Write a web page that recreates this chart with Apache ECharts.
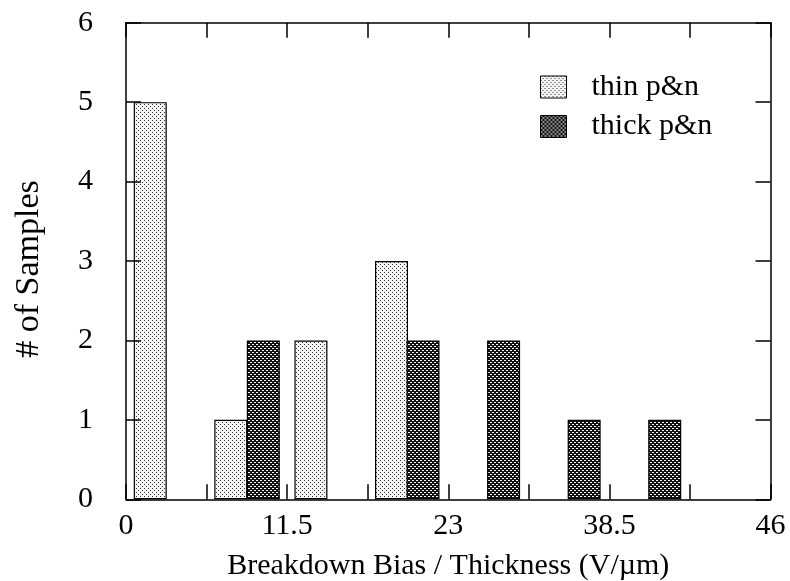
<!DOCTYPE html>
<html>
<head>
<meta charset="utf-8">
<script src="https://cdn.jsdelivr.net/npm/echarts@6/dist/echarts.min.js"></script>
<style>html,body{margin:0;padding:0;background:#fff;}#c{width:790px;height:581px;}</style>
</head>
<body>
<div id="c"></div>
<script>
// Data
var seriesNames = ['thin p&n', 'thick p&n'];
var thinX = [1.73, 7.48, 13.2, 18.95];
var thinY = [5, 1, 2, 3];
var thickX = [9.8, 21.2, 26.95, 32.7, 38.45];
var thickY = [2, 2, 2, 1, 1];
var xTickLabels = ['0', '', '11.5', '', '23', '', '38.5', '', '46'];
var yTickLabels = ['0', '1', '2', '3', '4', '5', '6'];
var xTitle = 'Breakdown Bias / Thickness (V/\u00b5m)';
var yTitle = '# of Samples';

function makePattern(bg, fg, pts) {
  var c = document.createElement('canvas');
  c.width = 4; c.height = 4;
  var g = c.getContext('2d');
  g.fillStyle = bg; g.fillRect(0, 0, 4, 4);
  g.fillStyle = fg;
  pts.forEach(function (p) { g.fillRect(p[0], p[1], 1, 1); });
  return c;
}
var thinPat = makePattern('#f4f4f4', '#333333', [[0, 0], [2, 2]]);
var thickPat = makePattern('#111111', '#ffffff', [[0, 0], [2, 2], [1, 0], [3, 2]]);

var font = 'Liberation Serif';
var chart = echarts.init(document.getElementById('c'));
var axisLineStyle = { color: '#000', width: 1.5 };
function tick() { return { show: true, inside: true, length: 15, lineStyle: { color: '#000', width: 1.5 } }; }
var option = {
  animation: false,
  textStyle: { fontFamily: font, color: '#000' },
  grid: { left: 126, right: 19.5, top: 22.7, bottom: 81.7, containLabel: false, outerBoundsMode: 'none' },
  legend: {
    data: seriesNames,
    orient: 'vertical',
    left: 540, top: 72, padding: 0,
    itemWidth: 26, itemHeight: 22, itemGap: 9.5,
    icon: 'rect',
    itemStyle: { borderColor: '#000', borderWidth: 1 },
    textStyle: { fontFamily: font, fontSize: 30, color: '#000', lineHeight: 30, padding: [0, 0, 0, 20] }
  },
  xAxis: [{
    type: 'value', min: 0, max: 46, interval: 5.75, position: 'bottom', z: 5,
    axisLine: { onZero: false, lineStyle: axisLineStyle },
    axisTick: tick(),
    splitLine: { show: false },
    axisLabel: {
      margin: 12, fontSize: 30, fontFamily: font, color: '#000',
      formatter: function (v) { return xTickLabels[Math.round(v / 5.75)] || ''; }
    },
    name: xTitle, nameLocation: 'middle', nameGap: 52,
    nameTextStyle: { fontFamily: font, fontSize: 30, color: '#000' }
  }, {
    type: 'value', min: 0, max: 46, interval: 5.75, position: 'top', z: 5,
    axisLine: { onZero: false, lineStyle: axisLineStyle },
    axisTick: tick(),
    splitLine: { show: false }, axisLabel: { show: false }
  }],
  yAxis: [{
    type: 'value', min: 0, max: 6, interval: 1, position: 'left', z: 5,
    axisLine: { show: true, onZero: false, lineStyle: axisLineStyle },
    axisTick: tick(),
    splitLine: { show: false },
    axisLabel: {
      margin: 33, fontSize: 30, fontFamily: font, color: '#000',
      formatter: function (v) { return yTickLabels[Math.round(v)]; }
    },
    name: yTitle, nameLocation: 'middle', nameGap: 80, nameRotate: 90,
    nameTextStyle: { fontFamily: font, fontSize: 34, color: '#000', padding: [0, 16, 0, 0] }
  }, {
    type: 'value', min: 0, max: 6, interval: 1, position: 'right', z: 5,
    axisLine: { show: true, onZero: false, lineStyle: axisLineStyle },
    axisTick: tick(),
    splitLine: { show: false }, axisLabel: { show: false }
  }],
  series: [{
    name: seriesNames[0], type: 'bar', xAxisIndex: 0, yAxisIndex: 0, z: 1,
    barWidth: 33, barGap: '-100%',
    itemStyle: { color: { image: thinPat, repeat: 'repeat' }, borderColor: '#000', borderWidth: 1.2 },
    data: thinX.map(function (x, i) { return [x, thinY[i]]; })
  }, {
    name: seriesNames[1], type: 'bar', xAxisIndex: 0, yAxisIndex: 0, z: 1,
    barWidth: 33, barGap: '-100%',
    itemStyle: { color: { image: thickPat, repeat: 'repeat' }, borderColor: '#000', borderWidth: 1.2 },
    data: thickX.map(function (x, i) { return [x, thickY[i]]; })
  }]
};
chart.setOption(option);
</script>
</body>
</html>
